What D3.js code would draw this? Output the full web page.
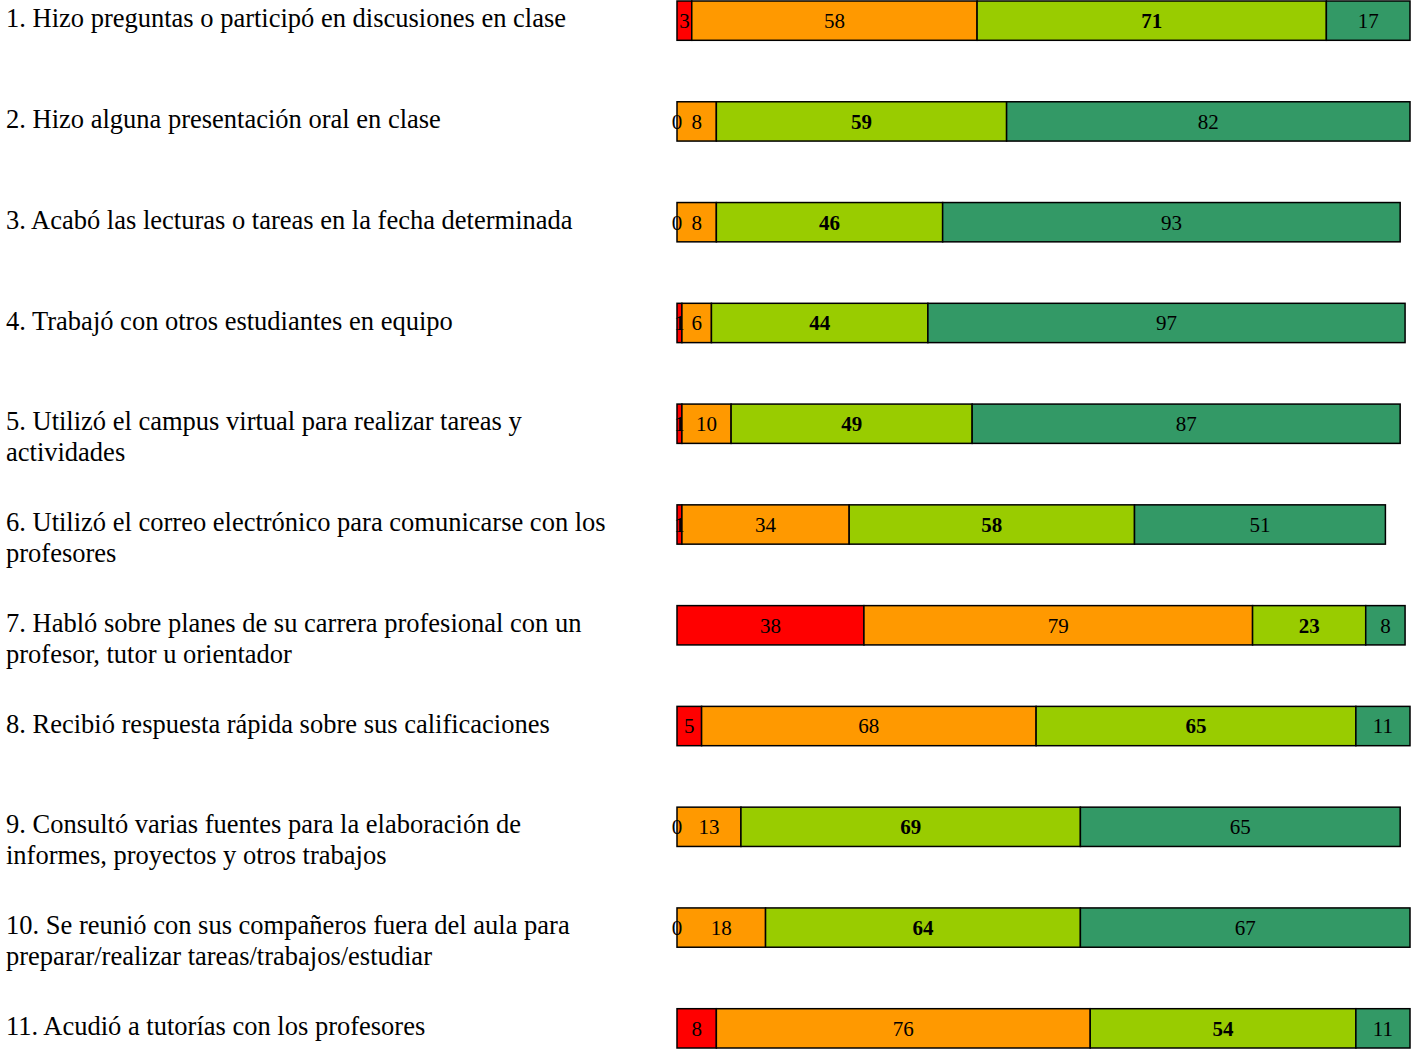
<!DOCTYPE html>
<html>
<head>
<meta charset="utf-8">
<script src="https://cdn.jsdelivr.net/npm/d3@7"></script>
<style>
  body { margin: 0; background: #fff; }
  text { font-family: "Liberation Serif", "Times New Roman", serif; }
</style>
</head>
<body>
<script>
// questions, one entry per line of the label
const questions = [
    ["1. Hizo preguntas o participó en discusiones en clase"],
    ["2. Hizo alguna presentación oral en clase"],
    ["3. Acabó las lecturas o tareas en la fecha determinada"],
    ["4. Trabajó con otros estudiantes en equipo"],
    ["5. Utilizó el campus virtual para realizar tareas y", "actividades"],
    ["6. Utilizó el correo electrónico para comunicarse con los", "profesores"],
    ["7. Habló sobre planes de su carrera profesional con un", "profesor, tutor u orientador"],
    ["8. Recibió respuesta rápida sobre sus calificaciones"],
    ["9. Consultó varias fuentes para la elaboración de", "informes, proyectos y otros trabajos"],
    ["10. Se reunió con sus compañeros fuera del aula para", "preparar/realizar tareas/trabajos/estudiar"],
    ["11. Acudió a tutorías con los profesores"]
];

// series values (one per question)
const nunca      = [3, 0, 0, 1, 1, 1, 38, 5, 0, 0, 8];
const aVeces     = [58, 8, 8, 6, 10, 34, 79, 68, 13, 18, 76];
const bastantes  = [71, 59, 46, 44, 49, 58, 23, 65, 69, 64, 54];
const muchas     = [17, 82, 93, 97, 87, 51, 8, 11, 65, 67, 11];

const seriesNames = ["nunca", "aVeces", "bastantes", "muchas"];
const colors = ["#ff0000", "#ff9900", "#99cc00", "#339966"];

const w = 1416;
const h = 1055;

// build rows for d3.stack
const rows = questions.map((q, i) => ({
    idx: i,
    nunca: nunca[i],
    aVeces: aVeces[i],
    bastantes: bastantes[i],
    muchas: muchas[i]
}));

const stacked = d3.stack().keys(seriesNames)(rows);

const svg = d3.select("body")
    .append("svg")
    .attr("width", w)
    .attr("height", h);

const xScale = d3.scaleLinear()
    .domain([0, 149])
    .range([677, 1410]);

const yScale = d3.scaleBand()
    .domain(d3.range(questions.length))
    .range([1, 1048])
    .paddingInner(0.61)
    .paddingOuter(0);

// left labels
const labels = svg.append("g")
    .selectAll("text")
    .data(questions)
    .enter()
    .append("text")
    .attr("x", 6)
    .attr("y", (d, i) => yScale(i) + yScale.bandwidth() / 2)
    .attr("font-size", "26.5px")
    .attr("fill", "#000");

labels.selectAll("tspan")
    .data(d => d)
    .enter()
    .append("tspan")
    .attr("x", 6)
    .attr("dy", (d, j) => j === 0 ? "0.25em" : "31px")
    .text(d => d);

// bars
const layers = svg.append("g")
    .selectAll("g")
    .data(stacked)
    .enter()
    .append("g")
    .attr("fill", (d, i) => colors[i]);

layers.selectAll("rect")
    .data(d => d)
    .enter()
    .append("rect")
    .attr("x", d => xScale(d[0]))
    .attr("y", d => yScale(d.data.idx))
    .attr("width", d => xScale(d[1]) - xScale(d[0]))
    .attr("height", yScale.bandwidth())
    .attr("stroke", "#000")
    .attr("stroke-width", 1.5);

// value labels
stacked.forEach((layer, si) => {
    svg.append("g")
        .selectAll("text")
        .data(layer)
        .enter()
        .append("text")
        .attr("x", d => (xScale(d[0]) + xScale(d[1])) / 2)
        .attr("y", d => yScale(d.data.idx) + yScale.bandwidth() / 2)
        .attr("dy", "0.35em")
        .attr("text-anchor", "middle")
        .attr("font-size", "21px")
        .attr("font-weight", si === 2 ? "bold" : "normal")
        .attr("fill", "#000")
        .text(d => d[1] - d[0]);
});
</script>
</body>
</html>
